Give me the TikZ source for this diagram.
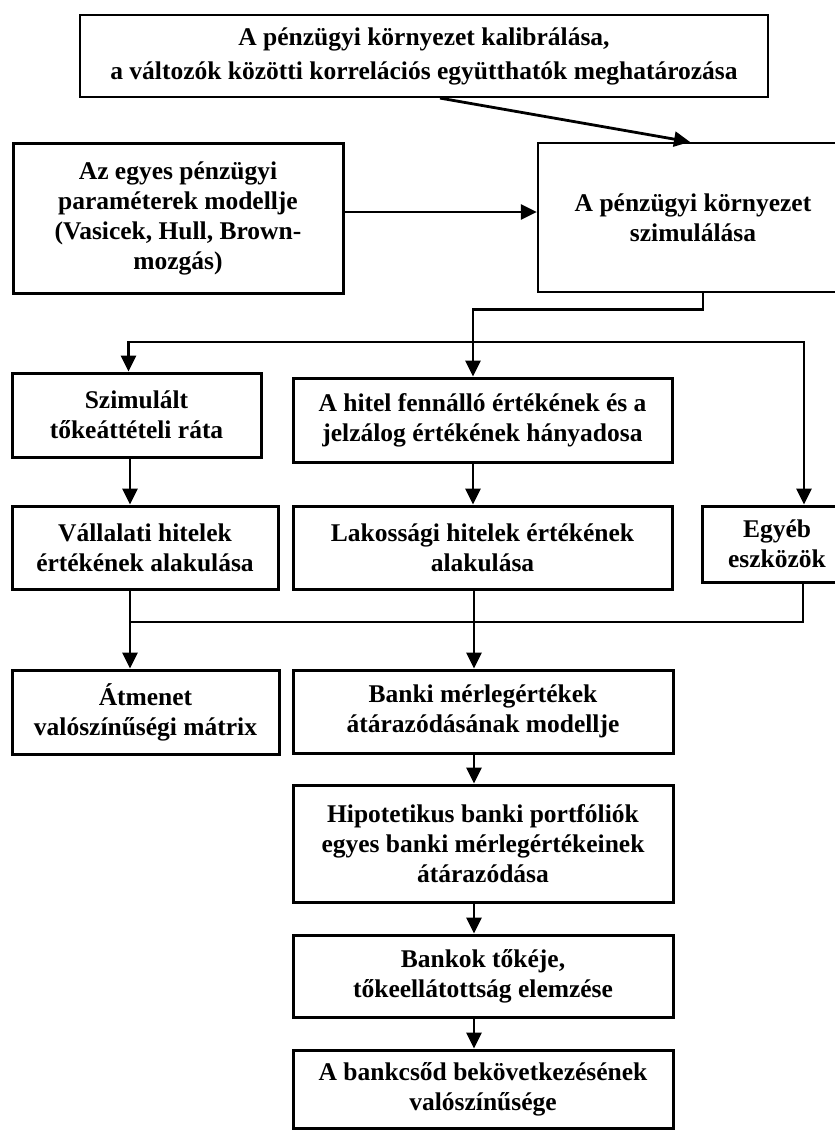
\documentclass[tikz,border=0pt]{standalone}
\usepackage{fontspec}
\setmainfont{Liberation Serif}
\usetikzlibrary{arrows.meta}

\tikzset{
  box/.style={draw, line width=3pt, inner sep=0pt, align=center,
    font=\bfseries\fontsize{25.5}{30}\selectfont},
  thinbox/.style={box, line width=2.2pt},
  wire/.style={line width=2.8pt},
  conn/.style={wire, -{Triangle[length=16pt,width=15pt]}},
}

\begin{document}
\begin{tikzpicture}[x=1pt,y=-1pt]
  \useasboundingbox (0,0) rectangle (835,1130);
  % boxes
  \node[thinbox, minimum width=688, minimum height=82,
    font=\bfseries\fontsize{25.5}{34}\selectfont] (kalib) at (424,56)
    {A pénzügyi környezet kalibrálása,\\ a változók közötti korrelációs együtthatók meghatározása};
  \node[box, minimum width=330, minimum height=150] (param) at (178,218)
    {Az egyes pénzügyi\\ paraméterek modellje\\ (Vasicek, Hull, Brown-\\ mozgás)};
  \node[thinbox, minimum width=310, minimum height=149] (szim) at (693,217.5)
    {A pénzügyi környezet\\ szimulálása};
  \node[box, minimum width=249, minimum height=84] (rata) at (136.5,415)
    {Szimulált\\ tőkeáttételi ráta};
  \node[box, minimum width=379, minimum height=84] (hanyad) at (482.5,420)
    {A hitel fennálló értékének és a\\ jelzálog értékének hányadosa};
  \node[box, minimum width=266, minimum height=83] (vall) at (145,547.5)
    {Vállalati hitelek\\ értékének alakulása};
  \node[box, minimum width=379, minimum height=83] (lak) at (482.5,547.5)
    {Lakossági hitelek értékének\\ alakulása};
  \node[box, minimum width=150, minimum height=76] (egyeb) at (777,544)
    {Egyéb\\ eszközök};
  \node[box, minimum width=267, minimum height=84] (atmenet) at (145.5,712)
    {Átmenet\\ valószínűségi mátrix};
  \node[box, minimum width=380, minimum height=83] (banki) at (483,711.5)
    {Banki mérlegértékek\\ átárazódásának modellje};
  \node[box, minimum width=380, minimum height=117] (hipot) at (483,843.5)
    {Hipotetikus banki portfóliók\\ egyes banki mérlegértékeinek\\ átárazódása};
  \node[box, minimum width=380, minimum height=82] (tokeje) at (483,976)
    {Bankok tőkéje,\\ tőkeellátottság elemzése};
  \node[box, minimum width=380, minimum height=78] (csod) at (483,1089)
    {A bankcsőd bekövetkezésének\\ valószínűsége};

  % connectors
  \coordinate (fork) at (473,342);
  \coordinate (join) at (130,622);
  \draw[conn] ([xshift=16pt]kalib.south) -- ([xshift=-3pt]szim.north);
  \draw[conn] (param.east |- 0,212) -- (szim.west |- 0,212);
  \draw[conn] ([xshift=10pt]szim.south) -- ++(0,16) -| ([xshift=-9.5pt]hanyad.north);
  \draw[conn] (fork) -| ([xshift=-8pt]rata.north);
  \draw[conn] (fork) -| ([xshift=27pt]egyeb.north);
  \draw[conn] ([xshift=-6.5pt]rata.south) -- ([xshift=-15pt]vall.north);
  \draw[conn] ([xshift=-9.5pt]hanyad.south) -- ([xshift=-9.5pt]lak.north);
  \draw[wire] ([xshift=26pt]egyeb.south) |- (join);
  \draw[conn] ([xshift=-15pt]vall.south) -- ([xshift=-15.5pt]atmenet.north);
  \draw[conn] ([xshift=-8.5pt]lak.south) -- ([xshift=-9pt]banki.north);
  \draw[conn] ([xshift=-9pt]banki.south) -- ([xshift=-9pt]hipot.north);
  \draw[conn] ([xshift=-9pt]hipot.south) -- ([xshift=-9pt]tokeje.north);
  \draw[conn] ([xshift=-9pt]tokeje.south) -- ([xshift=-9pt]csod.north);
\end{tikzpicture}
\end{document}
